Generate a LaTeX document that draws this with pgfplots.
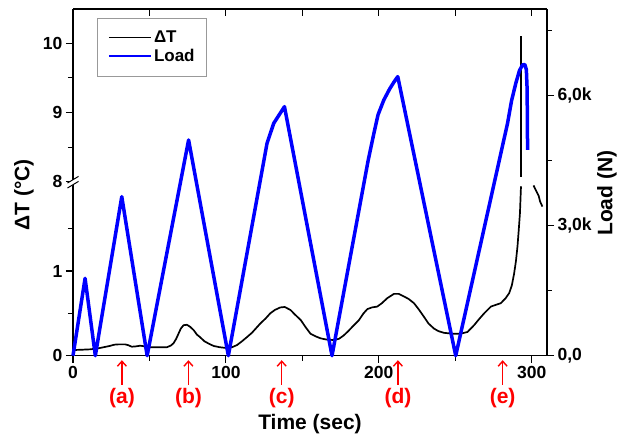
\documentclass[border=0pt]{standalone}
\usepackage{fontspec}
\setmainfont{Liberation Sans}
\usepackage{pgfplots}
\usepackage{pgfplotstable}
\pgfplotsset{compat=1.18}
\usetikzlibrary{arrows.meta}

% Delta T, lower segment of the broken axis (deg C)
\pgfplotstableread{
t dT
0 0.067
5 0.07
11 0.075
16 0.085
20 0.10
24 0.115
27 0.13
30 0.134
34 0.134
36 0.125
38.5 0.106
41 0.11
44 0.118
47 0.11
50.5 0.10
55 0.10
61.4 0.10
64 0.12
65.7 0.146
67.5 0.2
69 0.26
70.5 0.32
72.3 0.36
74.5 0.365
76.7 0.34
79 0.30
81 0.25
83 0.22
86 0.17
89 0.14
92 0.115
96 0.10
100.7 0.09
104 0.10
107.3 0.126
110.5 0.17
113.8 0.22
117 0.27
120 0.33
122.5 0.38
126 0.44
129 0.5
132 0.54
135.6 0.57
138.5 0.575
142.2 0.54
145.5 0.48
149 0.42
152 0.34
155.3 0.26
158.5 0.23
161.9 0.205
166 0.19
170.6 0.185
174 0.2
177.1 0.24
180 0.29
183.7 0.36
187 0.42
190 0.5
192.5 0.55
195.5 0.57
199 0.58
202 0.62
205.6 0.68
209.9 0.73
213 0.73
216.4 0.70
219.5 0.67
223 0.62
226 0.55
229.5 0.46
232.5 0.38
236.1 0.32
239 0.29
242.6 0.27
248 0.26
253.6 0.26
258 0.28
262.3 0.36
265.5 0.43
268.9 0.5
273.3 0.58
276.5 0.60
279.8 0.62
283 0.68
285.3 0.74
287 0.83
288.5 0.97
289.7 1.12
290.7 1.29
291.5 1.48
292.3 1.68
292.9 1.96
293.0 2.0
}\dTlow

% Load (N)
\pgfplotstableread{
t L
0 0
7.9 1786
14.6 0
31.9 3670
48.5 0
75.6 4978
101.6 0
126.9 4902
131.3 5364
138.3 5747
169.4 0
193 4500
196.8 5133
199.5 5560
203.3 5902
207 6150
210 6320
212.4 6440
250.3 0
284.2 5364
286.8 5880
289.6 6287
292 6580
294.0 6709
295.5 6720
296.5 6600
297.0 6150
297.3 4748
}\load

\begin{document}
\begin{tikzpicture}
\useasboundingbox (-73pt,-80.3pt) rectangle (550pt,355.7pt);
\begin{axis}[
  width=474pt, height=346.7pt, scale only axis,
  at={(0pt,0pt)}, anchor=south west,
  xmin=0, xmax=310, ymin=0, ymax=4.093,
  axis x line*=bottom, axis y line*=left,
  axis line style={line width=1.1pt},
  xtick={0,100,200,300}, minor xtick={50,150,250},
  ytick={0,1,2.054,2.8705,3.6875},
  yticklabels={0,1,8,9,10},
  minor ytick={0.5,1.5,2.462,3.279},
  tick align=outside,
  major tick length=7pt, minor tick length=5pt,
  every tick/.style={line width=1.1pt, black},
  /pgf/number format/assume math mode=true,
  ticklabel style={font=\fontsize{17.5}{20}\selectfont\bfseries},
  xlabel={Time (sec)},
  xlabel style={at={(axis description cs:0.5,-0.196)}, anchor=center,
    font=\fontsize{21}{24}\selectfont\bfseries},
  ylabel={ΔT (°C)},
  ylabel style={at={(axis description cs:-0.1034,0.4635)}, anchor=center,
    font=\fontsize{21}{24}\selectfont\bfseries},
  clip=false,
]
\addplot[black, line width=1.7pt, line join=round] table[x=t, y=dT] {\dTlow};
% upper segment of the broken axis (8 ... 10.5 deg C)
\addplot[black, line width=1.7pt, y filter/.expression={2.054+(y-8)*0.8165}]
  coordinates {(293.0,8.07) (293.0,10.11)};
\addplot[black, line width=1.7pt, line join=round]
  coordinates {(301.2,2.01) (302.8,1.95) (304.5,1.89) (305.5,1.82) (307,1.76)};
% axis break mark
\fill[white] ([xshift=-5.5pt,yshift=-6.3pt]axis cs:0,2.054) -- ++(11pt,6.6pt) -- ++(0pt,5pt) -- ++(-11pt,-6.6pt) -- cycle;
\draw[line width=1pt] ([xshift=-5.5pt,yshift=-6.3pt]axis cs:0,2.054) -- ++(11pt,6.6pt);
\draw[line width=1pt] ([xshift=-5.5pt,yshift=-1.3pt]axis cs:0,2.054) -- ++(11pt,6.6pt);
% markers (a)-(e)
\tikzset{mk/.style={red, line width=1.4pt, -{Straight Barb[length=5pt,width=9pt]}},
         ml/.style={red, font=\fontsize{21}{24}\selectfont\bfseries}}
\draw[mk] ([yshift=-29pt]axis cs:32,0) -- ([yshift=-4.5pt]axis cs:32,0);
\node[ml] at ([yshift=-42.5pt]axis cs:32,0) {(a)};
\draw[mk] ([yshift=-29pt]axis cs:75.5,0) -- ([yshift=-4.5pt]axis cs:75.5,0);
\node[ml] at ([yshift=-42.5pt]axis cs:75.5,0) {(b)};
\draw[mk] ([yshift=-29pt]axis cs:136.5,0) -- ([yshift=-4.5pt]axis cs:136.5,0);
\node[ml] at ([yshift=-42.5pt]axis cs:136.5,0) {(c)};
\draw[mk] ([yshift=-29pt]axis cs:212.5,0) -- ([yshift=-4.5pt]axis cs:212.5,0);
\node[ml] at ([yshift=-42.5pt]axis cs:212.5,0) {(d)};
\draw[mk] ([yshift=-29pt]axis cs:281,0) -- ([yshift=-4.5pt]axis cs:281,0);
\node[ml] at ([yshift=-42.5pt]axis cs:281,0) {(e)};
\end{axis}

\begin{axis}[
  width=474pt, height=346.7pt, scale only axis,
  at={(0pt,0pt)}, anchor=south west,
  xmin=0, xmax=310, ymin=0, ymax=8000,
  axis x line*=top, axis y line*=right,
  axis line style={line width=1.1pt},
  xtick={0,50,...,300}, xticklabels={},
  xtick align=inside, ytick align=outside,
  ytick={0,3000,6000}, yticklabels={{0,0},{3,0k},{6,0k}},
  minor ytick={1500,4500,7500},
  major tick length=7pt, minor tick length=4.5pt,
  every tick/.style={line width=1.1pt, black},
  scaled y ticks=false,
  ticklabel style={font=\fontsize{17.5}{20}\selectfont\bfseries},
  ylabel={Load (N)},
  ylabel style={at={(axis description cs:1.1266,0.469)}, anchor=center,
    font=\fontsize{21}{24}\selectfont\bfseries},
  legend cell align=left,
  legend style={at={(axis description cs:0.0513,0.975)}, anchor=north west,
    draw=gray!80, line width=0.8pt, fill=white,
    inner xsep=10pt, inner ysep=11pt, row sep=1pt,
    font=\fontsize{17}{20}\selectfont\bfseries},
  legend image code/.code={\draw[#1] (0pt,0pt) -- (42pt,0pt);},
  clip=false,
]
\addlegendimage{black, line width=1.3pt}
\addlegendentry{ΔT}
\addlegendimage{blue, line width=2.3pt}
\addlegendentry{Load}
\addplot[blue, line width=3.5pt, line join=round, forget plot] table[x=t, y=L] {\load};
\end{axis}
\end{tikzpicture}
\end{document}
